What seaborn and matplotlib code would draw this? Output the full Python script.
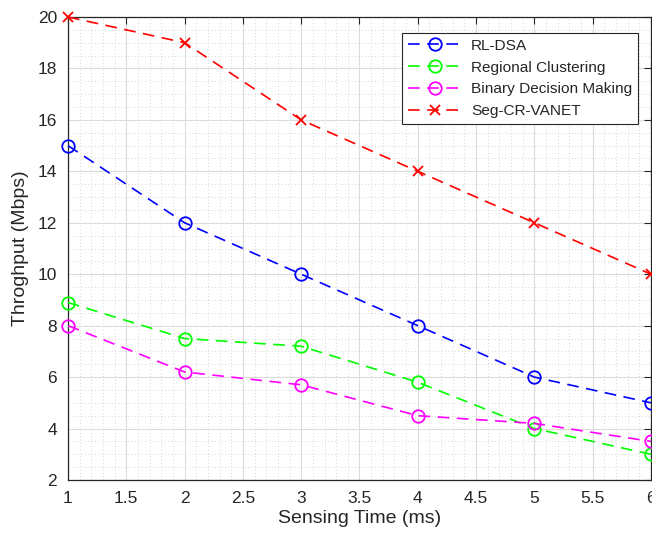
import matplotlib
matplotlib.use("Agg")
import matplotlib.pyplot as plt
import seaborn as sns
import pandas as pd
from matplotlib.ticker import MultipleLocator

sensing_time = [1, 2, 3, 4, 5, 6]
rl_dsa = [15, 12, 10, 8, 6, 5]
regional = [8.9, 7.5, 7.2, 5.8, 4.0, 3.0]
binary = [8.0, 6.2, 5.7, 4.5, 4.2, 3.5]
seg_cr = [20, 19, 16, 14, 12, 10]

series_names = ["RL-DSA", "Regional Clustering", "Binary Decision Making", "Seg-CR-VANET"]
series_vals = [rl_dsa, regional, binary, seg_cr]
colors = ["#0000ff", "#00ff00", "#ff00ff", "#ff0000"]
markers = ["o", "o", "o", "x"]

sns.set_style("white")
plt.rcParams['font.family'] = ['Liberation Sans', 'DejaVu Sans']

fig = plt.figure(figsize=(6.52, 5.36), dpi=100)
ax = fig.add_axes([68/652, 56/536, 583/652, 463/536])

for name, vals, c, m in zip(series_names, series_vals, colors, markers):
    df = pd.DataFrame({"x": sensing_time, "y": vals})
    sns.lineplot(data=df, x="x", y="y", ax=ax, color=c, marker=m,
                 markersize=9 if m == "o" else 7, markerfacecolor="none",
                 markeredgecolor=c, markeredgewidth=1.3,
                 linestyle=(0, (7, 4.5)), linewidth=1.2, label=name,
                 clip_on=False, zorder=3)

ax.set_xlim(1, 6)
ax.set_ylim(2, 20)
ax.yaxis.set_major_locator(MultipleLocator(2))
ax.xaxis.set_minor_locator(MultipleLocator(0.1))
ax.yaxis.set_minor_locator(MultipleLocator(0.5))
ax.set_xticks([1, 1.5, 2, 2.5, 3, 3.5, 4, 4.5, 5, 5.5, 6])
ax.set_xticklabels(["1", "1.5", "2", "2.5", "3", "3.5", "4", "4.5", "5", "5.5", "6"])
ax.grid(True, which="major", color="#dcdcdc", linewidth=0.8, linestyle="-")
ax.grid(True, which="minor", color="#c8c8c8", linewidth=0.6, linestyle=(0, (1, 3)))
ax.set_axisbelow(True)
ax.tick_params(which="major", direction="in", length=5, width=0.8, colors="#262626",
               labelsize=12.5, top=True, right=True, pad=8)
ax.tick_params(which="minor", length=0)
for s in ax.spines.values():
    s.set_color("#262626")
    s.set_linewidth(0.9)
ax.set_xlabel("Sensing Time (ms)", fontsize=14, color="#262626", labelpad=3)
ax.set_ylabel("Throghput (Mbps)", fontsize=14, color="#262626", labelpad=6)

leg = ax.legend(loc="upper right", bbox_to_anchor=(570/583, 447/463), borderaxespad=0,
                fontsize=11.1, frameon=True, fancybox=False, edgecolor="#262626",
                framealpha=1, handlelength=3.6, handletextpad=0.5,
                borderpad=0.38, labelspacing=0.5)
leg.get_frame().set_linewidth(0.8)

fig.savefig("out.png", dpi=100)
